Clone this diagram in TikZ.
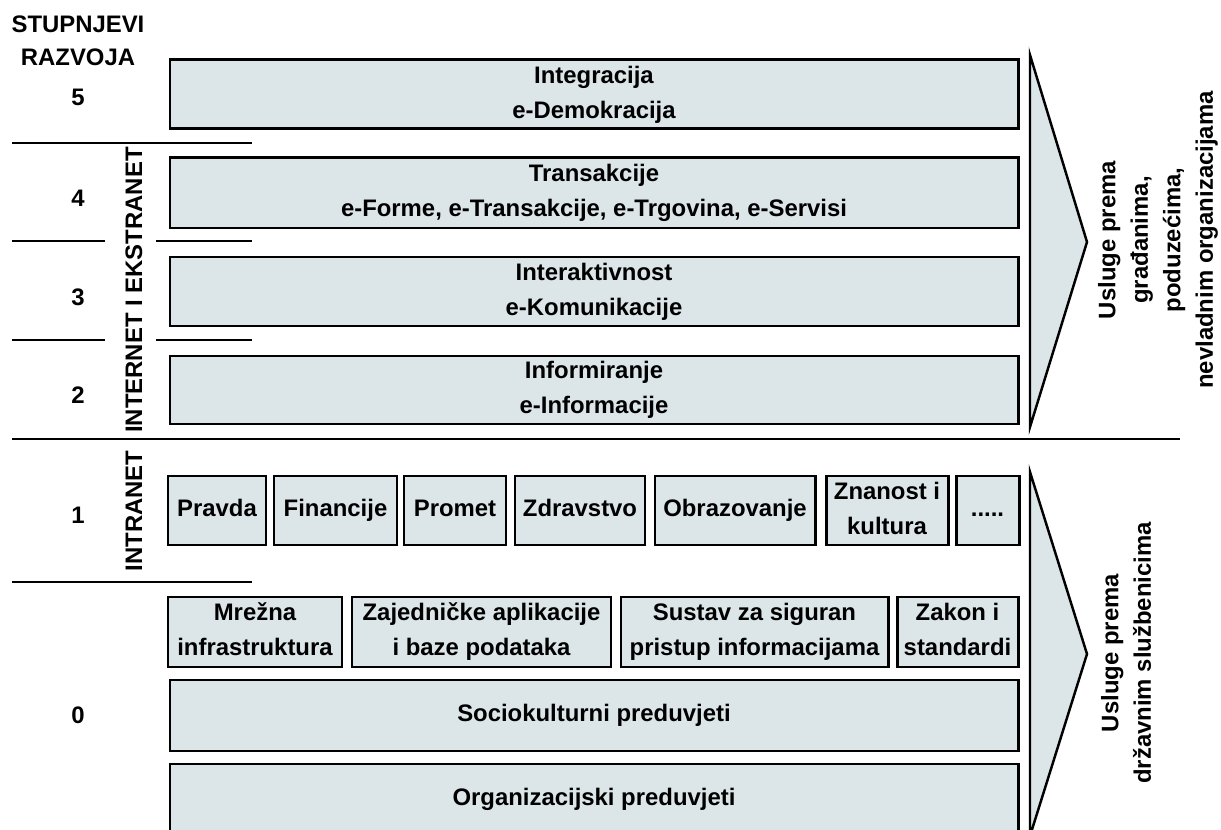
\documentclass[tikz,border=0pt]{standalone}
\usepackage{fontspec}
\setmainfont{Liberation Sans}
\definecolor{plavosiva}{HTML}{DCE6E9}
\newcommand\gore{\rule{0pt}{10pt}}
\newcommand\dolje{\rule[-3pt]{0pt}{3pt}}
\tikzstyle{blok}=[draw=black, fill=plavosiva, line width=1.7pt, inner sep=0pt, align=center]
\tikzstyle{redak}=[text height=10pt, text depth=3pt]
\tikzstyle{oznaka}=[inner sep=0pt, align=center]
\tikzstyle{crta}=[draw=black, line width=0.8pt]
\tikzstyle{strelica}=[draw=black, fill=plavosiva, line width=1.4pt, line join=miter]

\begin{document}
\begin{tikzpicture}[x=0.02cm, y=-0.02cm,
		font=\fontsize{13.6}{20}\selectfont\bfseries,
		sirina/.style={minimum width=#1*0.02cm},
		visina/.style={minimum height=#1*0.02cm}]
	\clip (0,0) rectangle (1221,830);
	% lijevi stupac
	\node[oznaka, font=\fontsize{13.6}{19}\selectfont\bfseries] (naslov) at (78,41) {STUPNJEVI\\RAZVOJA};
	\node[oznaka] (s5) at (78,97) {5};
	\node[oznaka] (s4) at (78,198) {4};
	\node[oznaka] (s3) at (78,297) {3};
	\node[oznaka] (s2) at (78,395) {2};
	\node[oznaka] (s1) at (78,515) {1};
	\node[oznaka] (s0) at (78,715) {0};
	\node[oznaka, rotate=90] (internet) at (134,290) {INTERNET I EKSTRANET};
	\node[oznaka, rotate=90] (intranet) at (134,511) {INTRANET};
	\path[crta]
		(12,143) -- (252,143)
		(12,241) -- (105,241) (156,241) -- (252,241)
		(12,340) -- (105,340) (156,340) -- (252,340)
		(12,439) -- (1180,439)
		(12,582) -- (252,582);
	% stupnjevi 2--5
	\node[blok, sirina=848, visina=69] (integracija) at (594,94.5) {Integracija\\e-Demokracija};
	\node[blok, sirina=848, visina=70] (transakcije) at (594,193) {Transakcije\\e-Forme, e-Transakcije, e-Trgovina, e-Servisi};
	\node[blok, sirina=848, visina=69] (interaktivnost) at (594,291.5) {Interaktivnost\\e-Komunikacije};
	\node[blok, sirina=848, visina=68] (informiranje) at (594,390) {Informiranje\\e-Informacije};
	% stupanj 1
	\node[blok, redak, sirina=98, visina=69] (pravda) at (217,510.5) {Pravda};
	\node[blok, redak, sirina=123, visina=69] (financije) at (335.5,510.5) {Financije};
	\node[blok, redak, sirina=102, visina=69] (promet) at (455,510.5) {Promet};
	\node[blok, redak, sirina=130, visina=69] (zdravstvo) at (580,510.5) {Zdravstvo};
	\node[blok, redak, sirina=160, visina=69] (obrazovanje) at (735,510.5) {Obrazovanje};
	\node[blok, sirina=122, visina=69] (znanost) at (887,510.5) {\gore Znanost i\\kultura\dolje};
	\node[blok, redak, sirina=63, visina=69] (ostalo) at (987.5,510.5) {.....};
	% stupanj 0
	\node[blok, sirina=174, visina=70] (mreza) at (255,632) {\gore Mrežna\\infrastruktura\dolje};
	\node[blok, sirina=259, visina=70] (aplikacije) at (481.5,632) {\gore Zajedničke aplikacije\\i baze podataka\dolje};
	\node[blok, sirina=267, visina=70] (sustav) at (754.5,632) {\gore Sustav za siguran\\pristup informacijama\dolje};
	\node[blok, sirina=121, visina=70] (zakon) at (957.5,632) {\gore Zakon i\\standardi\dolje};
	\node[blok, redak, sirina=848, visina=71] (sociokulturni) at (594,715.5) {Sociokulturni preduvjeti};
	\node[blok, redak, sirina=848, visina=71] (organizacijski) at (594,799.5) {Organizacijski preduvjeti};
	% strelice usluga
	\path[strelica] (1030,55) -- (1087,242) -- (1030,427) -- cycle;
	\path[strelica] (1030,472) -- (1087,654) -- (1030,836) -- cycle;
	\node[oznaka, rotate=90, font=\fontsize{13.6}{18.5}\selectfont\bfseries] (gradjani) at (1158,240)
		{Usluge prema\\građanima,\\poduzećima,\\nevladnim organizacijama};
	\node[oznaka, rotate=90, font=\fontsize{13.6}{18.5}\selectfont\bfseries] (sluzbenici) at (1126,653)
		{Usluge prema\\državnim službenicima};
\end{tikzpicture}
\end{document}
